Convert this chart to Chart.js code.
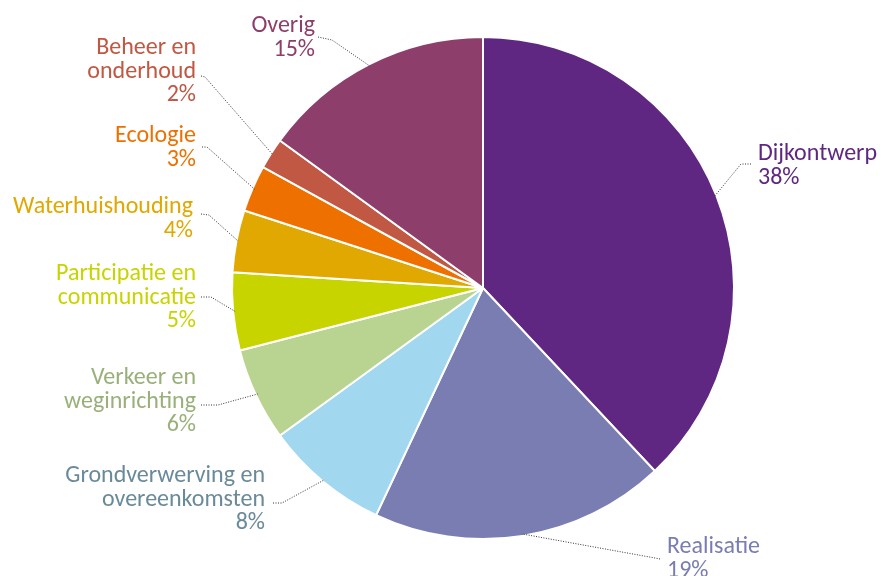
<!DOCTYPE html>
<html>
<head>
<meta charset="utf-8">
<script src="https://cdn.jsdelivr.net/npm/chart.js@4.4.1/dist/chart.umd.min.js"></script>
<style>
  html, body { margin: 0; padding: 0; background: #fff; }
  #wrap { width: 891px; height: 576px; }
</style>
</head>
<body>
<div id="wrap"><canvas id="grafico" width="891" height="576"></canvas></div>
<script>
// Data
const categories = ['Dijkontwerp', 'Realisatie', 'Grondverwerving en overeenkomsten', 'Verkeer en weginrichting',
    'Participatie en communicatie', 'Waterhuishouding', 'Ecologie', 'Beheer en onderhoud', 'Overig'];
const percentages = [38, 19, 8, 6, 5, 4, 3, 2, 15];
const sliceColors = ['#5F2781', '#7A7DB1', '#A2D8EF', '#B8D490', '#C8D400', '#E0A800', '#EE7100', '#C05843', '#8E3E6A'];
const textColors = ['#5F2781', '#7A7DB1', '#6A8A9A', '#9AB07A', '#C8D400', '#E0A800', '#EE7100', '#C05843', '#8E3E6A'];
// label lines (name split as in the picture)
const labelLines = [
    ['Dijkontwerp'],
    ['Realisatie'],
    ['Grondverwerving en', 'overeenkomsten'],
    ['Verkeer en', 'weginrichting'],
    ['Participatie en', 'communicatie'],
    ['Waterhuishouding'],
    ['Ecologie'],
    ['Beheer en', 'onderhoud'],
    ['Overig']
];

// Layout of the labels: text anchor x, first baseline, align, leader start, leader bend
const labelLayout = [
    { x: 758, y: 160, align: 'left',  from: [751, 164], bend: [741, 164] },
    { x: 667, y: 553, align: 'left',  from: [660, 559], bend: [655, 558] },
    { x: 265, y: 482, align: 'right', from: [273, 503], bend: [282, 503] },
    { x: 196, y: 384, align: 'right', from: [201, 405], bend: [218, 405] },
    { x: 196, y: 280, align: 'right', from: [201, 297], bend: [211, 297] },
    { x: 193, y: 213, align: 'right', from: [201, 214], bend: [209, 215] },
    { x: 196, y: 142, align: 'right', from: [202, 147], bend: [207, 147] },
    { x: 196, y: 54,  align: 'right', from: [201, 76],  bend: [205, 77] },
    { x: 315, y: 32,  align: 'right', from: [318, 37],  bend: [332, 40] }
];
const lineStep = 23.5;

const labelPlugin = {
    id: 'pieLabels',
    afterDatasetsDraw(chart) {
        const ctx = chart.ctx;
        const arcs = chart.getDatasetMeta(0).data;
        ctx.save();
        arcs.forEach((arc, i) => {
            const p = arc.getProps(['x', 'y', 'startAngle', 'endAngle', 'outerRadius'], true);
            const mid = (p.startAngle + p.endAngle) / 2;
            const ex = p.x + Math.cos(mid) * (p.outerRadius - 2);
            const ey = p.y + Math.sin(mid) * (p.outerRadius - 2);
            const lay = labelLayout[i];

            // dotted leader line
            ctx.strokeStyle = '#333333';
            ctx.lineWidth = 1;
            ctx.setLineDash([1, 1.5]);
            ctx.beginPath();
            ctx.moveTo(lay.from[0], lay.from[1]);
            ctx.lineTo(lay.bend[0], lay.bend[1]);
            ctx.lineTo(ex, ey);
            ctx.stroke();
            ctx.setLineDash([]);

            // text
            ctx.fillStyle = textColors[i];
            ctx.font = '24px Carlito, Lato, sans-serif';
            ctx.textAlign = lay.align;
            ctx.textBaseline = 'alphabetic';
            const lines = labelLines[i].concat([percentages[i] + '%']);
            lines.forEach((t, k) => ctx.fillText(t, lay.x, lay.y + k * lineStep));
        });
        ctx.restore();
    }
};

const ctx = document.getElementById('grafico').getContext('2d');
const myChart = new Chart(ctx, {
    type: 'pie',
    data: {
        labels: categories,
        datasets: [{
            data: percentages,
            backgroundColor: sliceColors,
            borderColor: '#ffffff',
            borderWidth: 2
        }]
    },
    options: {
        responsive: false,
        animation: false,
        layout: { padding: { left: 231, right: 156, top: 34, bottom: 34 } },
        plugins: {
            legend: { display: false },
            tooltip: { enabled: false }
        }
    },
    plugins: [labelPlugin]
});
</script>
</body>
</html>
